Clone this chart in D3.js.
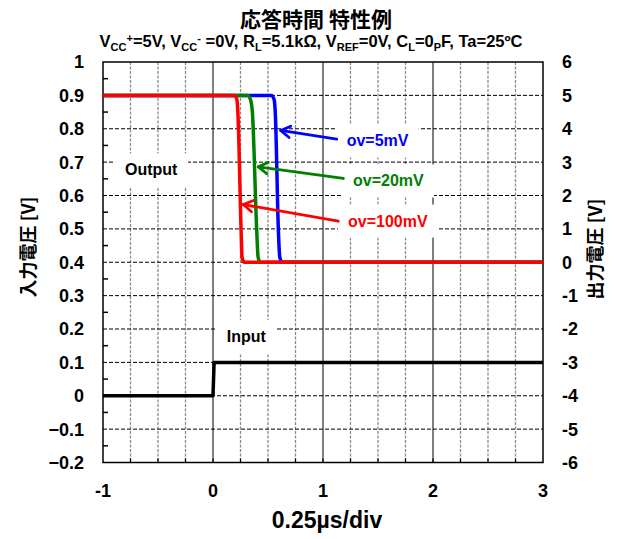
<!DOCTYPE html>
<html><head><meta charset="utf-8">
<script src="https://cdn.jsdelivr.net/npm/d3@7"></script>
<style>
body{margin:0;background:#fff}
svg{display:block}
text{font-family:"Liberation Sans",Arial,sans-serif;font-weight:bold;fill:#000}
.jp{font-family:"Noto Sans CJK JP","Liberation Sans",sans-serif;font-weight:bold}
</style>
</head><body>
<svg id="chart" width="622" height="539"></svg>
<script>
// Axis tick values
const xTickValues = [-1, 0, 1, 2, 3];
const leftTickValues = [1, 0.9, 0.8, 0.7, 0.6, 0.5, 0.4, 0.3, 0.2, 0.1, 0, -0.1, -0.2];
const rightTickValues = [6, 5, 4, 3, 2, 1, 0, -1, -2, -3, -4, -5, -6];

// Input step (left axis, V) against time (divisions of 0.25 µs)
const inputTime = [-1, 0, 0.01, 3];
const inputVolt = [0, 0, 0.1, 0.1];

// Output responses (right axis, V) for each overdrive
const out5Time  = [-1, 0.53, 0.555, 0.566, 0.595, 0.607, 0.63, 3];
const out5Volt  = [5, 5, 4.88, 4.5, 0.9, 0.15, 0, 0];
const out20Time = [-1, 0.315, 0.34, 0.358, 0.398, 0.41, 0.428, 3];
const out20Volt = [5, 5, 4.88, 4.5, 0.9, 0.15, 0, 0];
const out100Time = [-1, 0.195, 0.217, 0.226, 0.256, 0.264, 0.285, 3];
const out100Volt = [5, 5, 4.88, 4.5, 0.9, 0.15, 0, 0];

const seriesNames = ["ov=5mV", "ov=20mV", "ov=100mV"];
const seriesColors = ["#0000ff", "#008000", "#ff0000"];

const svg = d3.select("#chart");
const m = {left: 103, right: 543, top: 62, bottom: 462.5};

const x = d3.scaleLinear().domain([-1, 3]).range([m.left, m.right]);
const yL = d3.scaleLinear().domain([-0.2, 1]).range([m.bottom, m.top]);
const yR = d3.scaleLinear().domain([-6, 6]).range([m.bottom, m.top]);

// Grid: quarter-division verticals (grey dashed), whole-division verticals (solid)
const quarter = d3.range(-1, 3.001, 0.25).filter(v => v > -1 && v < 3);
svg.append("g").selectAll("line")
  .data(quarter.filter(v => Math.abs(v - Math.round(v)) > 1e-6))
  .join("line")
  .attr("x1", d => x(d)).attr("x2", d => x(d))
  .attr("y1", m.top).attr("y2", m.bottom)
  .attr("stroke", "#8a8a8a").attr("stroke-width", 1.3)
  .attr("stroke-dasharray", "3,1.5");
svg.append("g").selectAll("line")
  .data([0, 1, 2])
  .join("line")
  .attr("x1", d => x(d)).attr("x2", d => x(d))
  .attr("y1", m.top).attr("y2", m.bottom)
  .attr("stroke", "#000").attr("stroke-width", 1);

// Horizontal dashed grid at every 0.1 V of the input axis
svg.append("g").selectAll("line")
  .data(leftTickValues.filter(v => v < 1 && v > -0.2))
  .join("line")
  .attr("x1", m.left).attr("x2", m.right)
  .attr("y1", d => yL(d)).attr("y2", d => yL(d))
  .attr("stroke", "#000").attr("stroke-width", 1)
  .attr("stroke-dasharray", "4,2");

// Minor ticks on the left spine and bottom spine
svg.append("g").selectAll("line")
  .data(d3.range(-0.15, 1, 0.1))
  .join("line")
  .attr("x1", m.left).attr("x2", m.left + 5)
  .attr("y1", d => yL(d)).attr("y2", d => yL(d))
  .attr("stroke", "#000").attr("stroke-width", 1.5);
svg.append("g").selectAll("line")
  .data(quarter)
  .join("line")
  .attr("x1", d => x(d)).attr("x2", d => x(d))
  .attr("y1", m.bottom).attr("y2", m.bottom - 4)
  .attr("stroke", "#000").attr("stroke-width", 1.2);

// Annotation layer (white boxes hide the grid behind the labels)
const noteLayer = svg.append("g");
function note(txt, xv, yv, color) {
  const g = noteLayer.append("g");
  const t = g.append("text").attr("x", xv).attr("y", yv)
    .style("font-size", "16px").style("fill", color).text(txt);
  const b = t.node().getBBox();
  g.insert("rect", "text")
    .attr("x", b.x - 10).attr("y", b.y - 8)
    .attr("width", b.width + 20).attr("height", b.height + 16)
    .attr("fill", "#fff");
}
note("Output", x(-0.8), yL(0.66), "#000");
note("Input", x(0.125), yL(0.161), "#000");
const labelPos = [[1.215, 3.47], [1.273, 2.27], [1.227, 1.07]];
seriesNames.forEach((n, i) => note(n, x(labelPos[i][0]), yR(labelPos[i][1]), seriesColors[i]));

// Frame
svg.append("rect")
  .attr("x", m.left).attr("y", m.top)
  .attr("width", m.right - m.left).attr("height", m.bottom - m.top)
  .attr("fill", "none").attr("stroke", "#000").attr("stroke-width", 1.5);

// Curves
const lineL = d3.line().x(d => x(d[0])).y(d => yL(d[1]));
const lineR = d3.line().x(d => x(d[0])).y(d => yR(d[1])).curve(d3.curveMonotoneX);

svg.append("path")
  .datum(d3.zip(inputTime, inputVolt))
  .attr("d", lineL)
  .attr("fill", "none").attr("stroke", "#000").attr("stroke-width", 3.5)
  .attr("stroke-linejoin", "round");

const outputs = [d3.zip(out5Time, out5Volt), d3.zip(out20Time, out20Volt), d3.zip(out100Time, out100Volt)];
outputs.forEach((s, i) => {
  svg.append("path").datum(s).attr("d", lineR)
    .attr("fill", "none").attr("stroke", seriesColors[i]).attr("stroke-width", 3.5)
    .attr("stroke-linejoin", "round");
});

// Arrows from labels to curves: [tail, tip] in data units (time, output V)
const arrowPts = [
  [[1.125, 3.69], [0.615, 3.95]],
  [[1.185, 2.51], [0.412, 2.86]],
  [[1.139, 1.23], [0.275, 1.73]]
];
arrowPts.forEach((a, i) => {
  const x0 = x(a[0][0]), y0 = yR(a[0][1]), x1 = x(a[1][0]), y1 = yR(a[1][1]);
  const ang = Math.atan2(y0 - y1, x0 - x1);
  const L = 11, sp = 0.55;
  const g = svg.append("g").attr("stroke", seriesColors[i]).attr("stroke-width", 2.8)
    .attr("fill", "none").attr("stroke-linecap", "round").attr("stroke-linejoin", "round");
  g.append("line").attr("x1", x0).attr("y1", y0).attr("x2", x1).attr("y2", y1);
  g.append("polyline").attr("points", [
    [x1 + L * Math.cos(ang + sp), y1 + L * Math.sin(ang + sp)],
    [x1, y1],
    [x1 + L * Math.cos(ang - sp), y1 + L * Math.sin(ang - sp)]
  ].map(p => p.join(",")).join(" "));
});

// Tick labels
svg.append("g").selectAll("text").data(leftTickValues).join("text")
  .attr("x", 84).attr("y", d => yL(d)).attr("dy", "0.36em")
  .attr("text-anchor", "end").style("font-size", "18px")
  .text(d => d3.format("")(d));
svg.append("g").selectAll("text").data(rightTickValues).join("text")
  .attr("x", 562).attr("y", d => yR(d)).attr("dy", "0.36em")
  .attr("text-anchor", "start").style("font-size", "18px")
  .text(d => d);
svg.append("g").selectAll("text").data(xTickValues).join("text")
  .attr("x", d => x(d)).attr("y", 497)
  .attr("text-anchor", "middle").style("font-size", "18px")
  .text(d => d);

// Axis titles
svg.append("text").attr("x", 327).attr("y", 528)
  .attr("text-anchor", "middle").style("font-size", "23px").text("0.25µs/div");
svg.append("text").attr("class", "jp")
  .attr("transform", "translate(35,247) rotate(-90)")
  .attr("text-anchor", "middle").style("font-size", "18px").text("入力電圧 [V]");
svg.append("text").attr("class", "jp")
  .attr("transform", "translate(602,249) rotate(-90)")
  .attr("text-anchor", "middle").style("font-size", "18px").text("出力電圧 [V]");

// Title and conditions line
svg.append("text").attr("class", "jp").attr("x", 316).attr("y", 27)
  .attr("text-anchor", "middle").style("font-size", "21px").text("応答時間 特性例");

const cond = svg.append("text").attr("x", 311).attr("y", 47)
  .attr("text-anchor", "middle").style("font-size", "16.5px");
const parts = [
  ["V", 0], ["CC", -1], ["+", 1], ["=5V, V", 0], ["CC", -1], ["-", 1], [" =0V, R", 0], ["L", -1],
  ["=5.1kΩ, V", 0], ["REF", -1], ["=0V, C", 0], ["L", -1], ["=0", 0], ["P", -1], ["F, Ta=25ºC", 0]
];
let prev = 0;
parts.forEach(([s, k]) => {
  const shift = k === -1 ? 4 : k === 1 ? -5 : 0;
  cond.append("tspan")
    .attr("dy", shift - prev)
    .style("font-size", k === 0 ? "16.5px" : "11px")
    .text(s);
  prev = shift;
});
</script>
</body></html>
